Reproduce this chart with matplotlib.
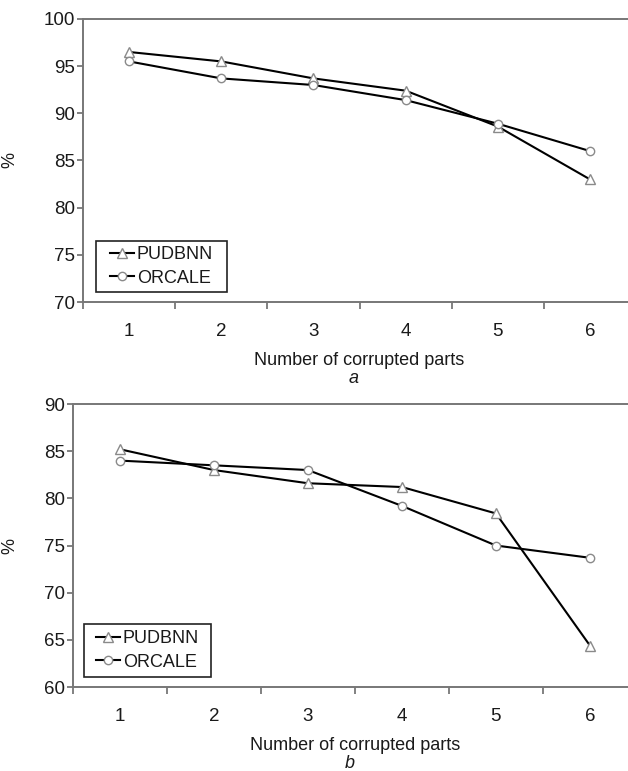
import matplotlib
matplotlib.use('Agg')
import matplotlib.pyplot as plt
from matplotlib.patches import Rectangle

parts = [1, 2, 3, 4, 5, 6]
series_names = ['PUDBNN', 'ORCALE']

pudbnn_a = [96.5, 95.5, 93.7, 92.4, 88.6, 83.0]
orcale_a = [95.5, 93.7, 93.0, 91.4, 88.9, 86.0]

pudbnn_b = [85.2, 83.0, 81.6, 81.2, 78.4, 64.4]
orcale_b = [84.0, 83.5, 83.0, 79.2, 75.0, 73.7]

yticks_a = [70, 75, 80, 85, 90, 95, 100]
yticks_b = [60, 65, 70, 75, 80, 85, 90]

plt.rcParams['font.family'] = ['Liberation Sans', 'DejaVu Sans']
plt.rcParams['font.size'] = 13

SPINE = '#777777'
MARK = '#8a8a8a'
TEXT = '#1a1a1a'


def draw_panel(ax, pud, orc, yticks, tag, ylab_x, box):
    ax.plot(parts, pud, color='black', lw=1.5, marker='^', ms=6.5,
            mfc='white', mec=MARK, mew=1.0, label=series_names[0])
    ax.plot(parts, orc, color='black', lw=1.5, marker='o', ms=6,
            mfc='white', mec=MARK, mew=1.0, label=series_names[1])

    ax.set_xlim(0.5, 6.5)
    ax.set_ylim(yticks[0], yticks[-1])
    ax.set_yticks(yticks)

    # category axis: ticks between categories, labels at the centres
    ax.set_xticks([p - 0.5 for p in parts] + [6.5])
    ax.set_xticklabels([])
    ax.set_xticks(parts, minor=True)
    ax.set_xticklabels([str(p) for p in parts], minor=True)
    ax.tick_params(axis='x', which='major', direction='out', length=5,
                   width=1.3, color=SPINE)
    ax.tick_params(axis='x', which='minor', length=0, pad=15,
                   labelsize=13.5, labelcolor=TEXT)
    ax.tick_params(axis='y', direction='out', length=4, width=1.3,
                   color=SPINE, pad=2, labelsize=13.5, labelcolor=TEXT)

    for side in ['left', 'bottom', 'top', 'right']:
        ax.spines[side].set_color(SPINE)
        ax.spines[side].set_linewidth(1.4)

    ax.set_ylabel('%', color=TEXT)
    ax.yaxis.set_label_coords(ylab_x, 0.5)
    ax.set_xlabel('Number of corrupted parts', labelpad=9, color=TEXT)
    ax.text(0.49, -0.27, tag, transform=ax.transAxes, style='italic',
            ha='center', va='center', color=TEXT)

    x0, y0, x1, y1 = box
    ax.add_patch(Rectangle((x0, y0), x1 - x0, y1 - y0,
                           transform=ax.transAxes, fill=True, fc='white',
                           ec='#222222', lw=1.2, zorder=4))
    leg = ax.legend(loc='center', bbox_to_anchor=((x0 + x1) / 2, (y0 + y1) / 2),
                    frameon=False, handlelength=1.35, handletextpad=0.15,
                    borderpad=0, labelspacing=0.35)
    leg.set_zorder(5)
    for t in leg.get_texts():
        t.set_color(TEXT)


fig = plt.figure(figsize=(6.28, 7.71), dpi=100)
ax_a = fig.add_axes([0.1322, 0.6083, 0.8806, 0.3671])
ax_b = fig.add_axes([0.1162, 0.1089, 0.8980, 0.3671])

draw_panel(ax_a, pudbnn_a, orcale_a, yticks_a, 'a', -0.1175,
           (0.0235, 0.0353, 0.2604, 0.2155))
draw_panel(ax_b, pudbnn_b, orcale_b, yticks_b, 'b', -0.0975,
           (0.0195, 0.0353, 0.2447, 0.2226))

fig.savefig('out.png', dpi=100)
